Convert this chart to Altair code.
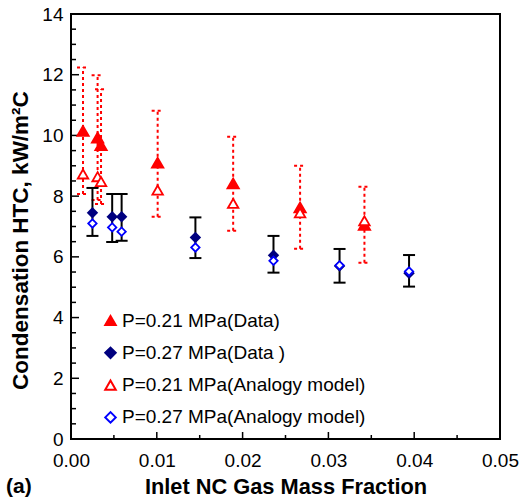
import altair as alt
import pandas as pd

# ---- data ----
x_021 = [0.0014, 0.0031, 0.0035, 0.0101, 0.0189, 0.0267, 0.0342]
data_021 = [10.15, 9.93, 9.68, 9.10, 8.42, 7.63, 7.05]
model_021 = [8.73, 8.64, 8.48, 8.20, 7.76, 7.45, 7.19]
lo_021 = [8.07, 7.87, 7.74, 7.32, 6.86, 6.27, 5.81]
hi_021 = [12.24, 11.98, 11.52, 10.81, 9.96, 9.00, 8.31]

x_027 = [0.0025, 0.0048, 0.0059, 0.0145, 0.0236, 0.0313, 0.0394]
data_027 = [7.45, 7.32, 7.32, 6.64, 6.05, 5.70, 5.46]
model_027 = [7.10, 6.97, 6.83, 6.31, 5.87, 5.72, 5.52]
lo_027 = [6.69, 6.49, 6.53, 5.96, 5.48, 5.15, 5.02]
hi_027 = [8.27, 8.07, 8.07, 7.30, 6.69, 6.26, 6.06]

series_names = [
    "P=0.21 MPa(Data)",
    "P=0.27 MPa(Data )",
    "P=0.21 MPa(Analogy model)",
    "P=0.27 MPa(Analogy model)",
]
x_ticks = [0.0, 0.01, 0.02, 0.03, 0.04, 0.05]
x_minor = [0.005, 0.015, 0.025, 0.035, 0.045]
y_ticks = [0, 2, 4, 6, 8, 10, 12, 14]
y_minor = [v + 0.5 * k for v in [0, 2, 4, 6, 8, 10, 12] for k in (1, 2, 3)]
x_title = "Inlet NC Gas Mass Fraction"
y_title = "Condensation HTC, kW/m\u00b2C"
panel_label = "(a)"

FONT = "Liberation Sans"
W, H = 429, 425

red = "#ff0000"
navy = "#00007f"
blue = "#0000ff"

df_d21 = pd.DataFrame({"x": x_021, "v": data_021, "s": series_names[0]})
df_d27 = pd.DataFrame({"x": x_027, "v": data_027, "s": series_names[1]})
df_m21 = pd.DataFrame({"x": x_021, "v": model_021, "s": series_names[2]})
df_m27 = pd.DataFrame({"x": x_027, "v": model_027, "s": series_names[3]})
err21 = pd.DataFrame({"x": x_021, "lo": lo_021, "hi": hi_021})
err27 = pd.DataFrame({"x": x_027, "lo": lo_027, "hi": hi_027})

xs = alt.Scale(domain=[0, 0.05], nice=False, zero=False)
ys = alt.Scale(domain=[0, 14], nice=False, zero=False)

X = alt.X("x:Q", scale=xs, axis=alt.Axis(
    values=x_ticks, format=".2f", title=x_title, grid=False, ticks=False, tickSize=0,
    domain=False, labelFont=FONT, labelFontSize=19, labelColor="black", labelPadding=12,
    labelFlush=False, labelOverlap=False,
    titleFont=FONT, titleFontSize=21.8, titleFontWeight="bold", titleColor="black",
    titleX=W / 2, titleY=54, titleBaseline="alphabetic", titleAnchor="middle"))
Y = alt.Y("v:Q", scale=ys, axis=alt.Axis(
    values=y_ticks, title=y_title, grid=False, ticks=False, tickSize=0, domain=False,
    labelFont=FONT, labelFontSize=19, labelColor="black", labelPadding=8,
    labelFlush=False, labelOverlap=False,
    titleFont=FONT, titleFontSize=22.5, titleFontWeight="bold", titleColor="black",
    titleX=-44, titleY=226, titleBaseline="alphabetic", titleAngle=-90, titleAlign="center"))

# error bars
def vbar(df, color, dash):
    kw = dict(color=color, strokeWidth=2)
    if dash:
        kw["strokeDash"] = [3, 3]
    v = alt.Chart(df).mark_rule(**kw).encode(
        x=alt.X("x:Q", scale=xs), y=alt.Y("lo:Q", scale=ys), y2="hi:Q")
    top = alt.Chart(df).mark_rule(xOffset=-6, x2Offset=6, **kw).encode(
        x=alt.X("x:Q", scale=xs), x2="x:Q", y=alt.Y("hi:Q", scale=ys))
    bot = alt.Chart(df).mark_rule(xOffset=-6, x2Offset=6, **kw).encode(
        x=alt.X("x:Q", scale=xs), x2="x:Q", y=alt.Y("lo:Q", scale=ys))
    return [v, top, bot]

legend = alt.Legend(
    title=None, orient="none", legendX=30, legendY=297, padding=0,
    labelFont=FONT, labelFontSize=19, labelColor="black", labelOffset=2,
    rowPadding=12.3, symbolSize=110, symbolStrokeWidth=2, labelLimit=400)

shape_enc = alt.Shape("s:N", legend=legend, scale=alt.Scale(
    domain=series_names, range=["triangle-up", "diamond", "triangle-up", "diamond"]))
fill_enc = alt.Fill("s:N", legend=legend, scale=alt.Scale(
    domain=series_names, range=[red, navy, "white", "white"]))
stroke_enc = alt.Stroke("s:N", legend=legend, scale=alt.Scale(
    domain=series_names, range=[red, navy, red, blue]))

def pts(df, size):
    return alt.Chart(df).mark_point(opacity=1, strokeWidth=1.8, size=size).encode(
        x=X, y=Y, shape=shape_enc, fill=fill_enc, stroke=stroke_enc)

# inward tick marks
ytk = alt.Chart(pd.DataFrame({"t": y_ticks})).mark_rule(color="black", strokeWidth=1.5).encode(
    y=alt.Y("t:Q", scale=ys), x=alt.value(0), x2=alt.value(8))
ymn = alt.Chart(pd.DataFrame({"t": y_minor})).mark_rule(color="black", strokeWidth=1.5).encode(
    y=alt.Y("t:Q", scale=ys), x=alt.value(0), x2=alt.value(5))
xtk = alt.Chart(pd.DataFrame({"t": x_ticks})).mark_rule(color="black", strokeWidth=1.5).encode(
    x=alt.X("t:Q", scale=xs), y=alt.value(H), y2=alt.value(H - 7))
xmn = alt.Chart(pd.DataFrame({"t": x_minor})).mark_rule(color="black", strokeWidth=1.5).encode(
    x=alt.X("t:Q", scale=xs), y=alt.value(H), y2=alt.value(H - 4))

lab = alt.Chart(pd.DataFrame({"t": [panel_label]})).mark_text(
    font=FONT, fontSize=21, fontWeight="bold", align="left", baseline="alphabetic", color="black"
).encode(text="t:N", x=alt.value(-65), y=alt.value(H + 54))

chart = alt.layer(
    ytk, ymn, xtk, xmn,
    *vbar(err21, red, True), *vbar(err27, "black", False),
    pts(df_d21, 130), pts(df_d27, 80), pts(df_m21, 110), pts(df_m27, 70),
    lab,
).properties(
    width=W, height=H,
    autosize=alt.AutoSizeParams(type="none"),
    padding={"left": 71, "top": 14, "right": 22, "bottom": 63},
    background="white",
).configure_view(stroke="black", strokeWidth=2)

chart.save("out.html", embed_options={"renderer": "svg", "actions": False})
